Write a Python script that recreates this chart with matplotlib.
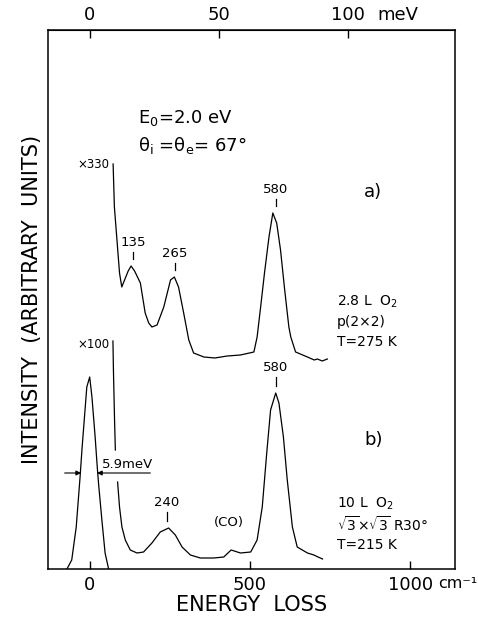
import matplotlib
matplotlib.use("Agg")
import matplotlib.pyplot as plt
import numpy as np

# energy loss in cm^-1, intensity in arbitrary units
loss_a = [73, 77, 85, 93, 100, 110, 120, 129, 140, 158, 173, 184, 194, 210,
          231, 252, 264, 277, 293, 309, 324, 356, 390, 429, 470, 512, 522,
          533, 545, 559, 571, 583, 595, 608, 621, 627, 642, 679, 700, 710,
          725, 741]
int_a = [405, 362, 329, 296, 282, 290, 298, 303, 298, 286, 256, 246, 242, 244,
         262, 289, 292, 282, 256, 229, 216, 212, 211, 213, 214, 217, 232,
         262, 296, 332, 356, 346, 319, 279, 242, 232, 217, 212, 209, 210,
         208, 210]

loss_el = [-71, -56, -42, -30, -24, -17, -9, 0, 7, 17, 24, 28, 38, 48, 59]
int_el = [0, 9, 42, 92, 120, 149, 182, 192, 172, 132, 100, 84, 49, 16, 0]

loss_b = [72.5, 74, 77.5, 80, np.nan, 87, 93, 100.5, 111, 126.5, 147.5, 168,
          194, 220, 246, 267, 288, 314, 345, 387, 418, 441, 470, 502, 522,
          538, 552, 564, 580, 590, 604, 616, 632, 647, 679, 699, 712, 726]
int_b = [228, 199, 149, 119, np.nan, 87, 62, 42, 29, 19, 16, 17,
         26, 37, 41, 34, 22, 14, 11, 11, 12, 19, 16, 17, 29,
         62, 116, 159, 176, 166, 132, 89, 42, 22, 16, 14, 12, 10]

peaks_a = [135, 265, 580]
peaks_a_h = [303, 292, 356]
peaks_b = [240, 580]
peaks_b_h = [41, 176]

fig = plt.figure(figsize=(4.78, 6.23), dpi=100)
ax = fig.add_axes([48 / 478, 54 / 623, 407 / 478, 539 / 623])
ax.set_xlim(-130, 1139)
ax.set_ylim(0, 539)

lw = 0.9
ax.plot(loss_a, int_a, color="black", lw=lw)
ax.plot(loss_el, int_el, color="black", lw=lw)
ax.plot(loss_b, int_b, color="black", lw=lw)

# peak markers
for x, h in zip(peaks_a, peaks_a_h):
    ax.plot([x, x], [h + 7, h + 14], color="black", lw=lw)
    ax.text(x, h + 17, str(x), ha="center", va="bottom", fontsize=9.5)
for x, h in zip(peaks_b, peaks_b_h):
    ax.plot([x, x], [h + 7, h + 16], color="black", lw=lw)
    ax.text(x, h + 19, str(x), ha="center", va="bottom", fontsize=9.5)
ax.text(435, 40, "(CO)", ha="center", va="bottom", fontsize=9.5)

ax.text(62, 405, "\u00d7330", ha="right", va="center", fontsize=8.5)
ax.text(62, 224, "\u00d7100", ha="right", va="center", fontsize=8.5)

# FWHM arrows
ax.annotate("", xy=(-27, 96), xytext=(-78, 96),
            arrowprops=dict(arrowstyle="-|>", color="black", lw=0.8,
                            mutation_scale=7, shrinkA=0, shrinkB=0))
ax.annotate("", xy=(23, 96), xytext=(189, 96),
            arrowprops=dict(arrowstyle="-|>", color="black", lw=0.8,
                            mutation_scale=7, shrinkA=0, shrinkB=0))
ax.text(38, 98, "5.9meV", ha="left", va="bottom", fontsize=9.5)

ax.text(152, 451, "E$_0$=2.0 eV", fontsize=13, va="center")
ax.text(152, 424, "\u03b8$_\\mathrm{i}$ =\u03b8$_\\mathrm{e}$= 67\u00b0",
        fontsize=13, va="center")
ax.text(855, 377, "a)", fontsize=13, va="center")
ax.text(855, 129, "b)", fontsize=13, va="center")

ax.text(770, 267, "2.8 L  O$_2$", fontsize=10, va="center")
ax.text(770, 247, "p(2\u00d72)", fontsize=10, va="center")
ax.text(770, 227, "T=275 K", fontsize=10, va="center")
ax.text(770, 65, "10 L  O$_2$", fontsize=10, va="center")
ax.text(770, 44, "$\\sqrt{3}$\u00d7$\\sqrt{3}$ R30\u00b0", fontsize=10,
        va="center")
ax.text(770, 24, "T=215 K", fontsize=10, va="center")

# axes styling
for s in ax.spines.values():
    s.set_linewidth(1.1)
ax.set_yticks([])
ax.set_xticks([0, 500, 1000])
ax.set_xticklabels(["0", "500", "1000"])
ax.tick_params(axis="x", direction="in", length=6, width=1.0,
               labelsize=13, pad=5)
ax.text(1086, -19, "cm\u207b\u00b9", fontsize=11.5, ha="left", va="baseline",
        clip_on=False)

top = ax.secondary_xaxis("top", functions=(lambda c: c / 8.0655,
                                           lambda e: e * 8.0655))
top.set_xticks([0, 50, 100])
top.set_xticklabels(["0", "50", "100"])
top.tick_params(direction="in", length=6, width=1.0, labelsize=13, pad=4)
ax.text(898, 545, "meV", fontsize=13, ha="left", va="bottom",
        clip_on=False)

ax.set_xlabel("ENERGY  LOSS", fontsize=15, labelpad=1)
ax.set_ylabel("INTENSITY  (ARBITRARY  UNITS)", fontsize=15, labelpad=4)

fig.savefig("out.png", dpi=100)
